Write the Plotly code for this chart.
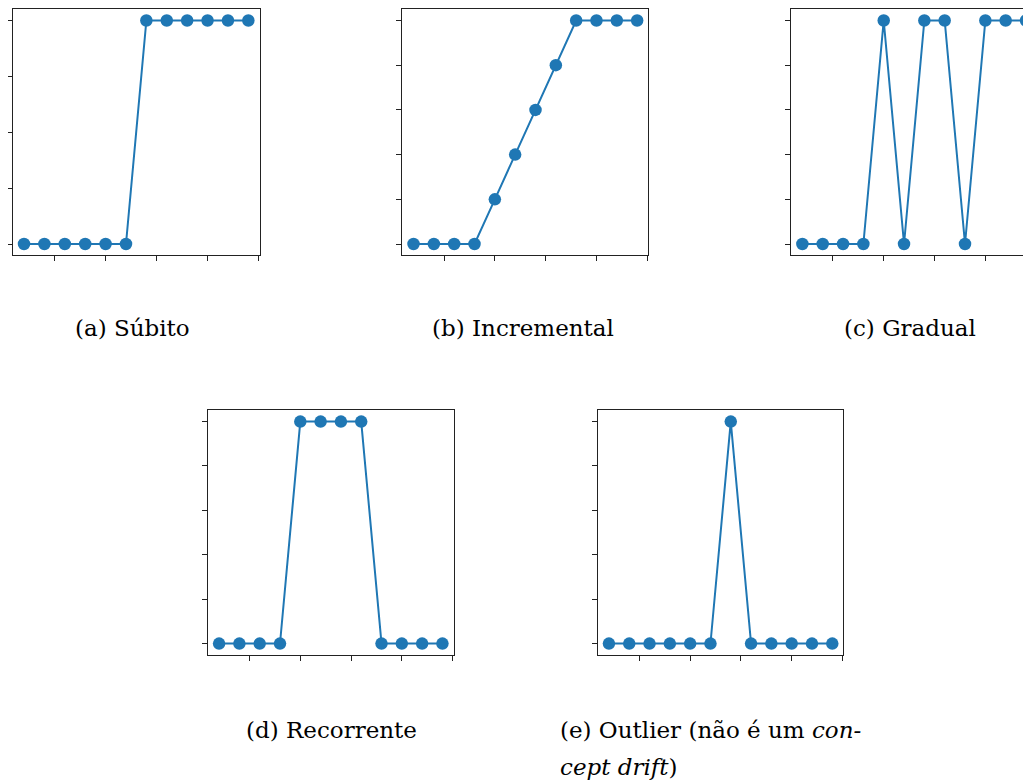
import plotly.graph_objects as go

# The page body has an 8px default margin; the figure starts at screen (8, 8).
OFF = 8
W, H = 1031 - OFF, 782 - OFF

x_vals = [1, 2, 3, 4, 5, 6, 7, 8, 9, 10, 11, 12]
subito = [0, 0, 0, 0, 0, 0, 1, 1, 1, 1, 1, 1]
incremental = [0, 0, 0, 0, 0.2, 0.4, 0.6, 0.8, 1, 1, 1, 1]
gradual = [0, 0, 0, 0, 1, 0, 1, 1, 0, 1, 1, 1]
recorrente = [0, 0, 0, 0, 1, 1, 1, 1, 0, 0, 0, 0]
outlier = [0, 0, 0, 0, 0, 0, 1, 0, 0, 0, 0, 0]

captions = ["(a) Súbito", "(b) Incremental", "(c) Gradual", "(d) Recorrente"]
caption_e1 = "(e) Outlier (não é um <i>con-</i>"
caption_e2 = "<i>cept drift</i>)"

COLOR = "#1f77b4"
FRAME = "#222222"

# panel screen-pixel boxes: (left, right, top, bottom), x-range, y tick step, mirror right side
panels = [
    (subito,      (9.8, 257.3, 8.3, 254.5),   [0.45, 12.55], 0.25, True),
    (incremental, (400.5, 647.2, 8.3, 254.5), [0.45, 12.55], 0.2, True),
    (gradual,     (790.5, 1031, 8.3, 254.5),  [0.45, 1 + (1031 - 801.7) / 20.39], 0.2, False),
    (recorrente,  (205.5, 451.9, 410, 654.5), [0.45, 12.55], 0.2, True),
    (outlier,     (596.5, 842.9, 410, 654.5), [0.45, 12.55], 0.2, True),
]


def px(v):
    return (v - OFF) / W


def py(v):
    return 1 - (v - OFF) / H


fig = go.Figure()
layout = dict(
    width=W, height=H,
    margin=dict(l=0, r=0, t=0, b=0),
    paper_bgcolor="white", plot_bgcolor="white",
    showlegend=False,
)

for i, (vals, (l, r, t, b), xr, ystep, mirror_right) in enumerate(panels):
    n = i + 1
    xa = "x" if n == 1 else f"x{n}"
    ya = "y" if n == 1 else f"y{n}"
    fig.add_trace(go.Scatter(
        x=x_vals, y=vals, mode="lines+markers",
        line=dict(color=COLOR, width=2),
        marker=dict(color=COLOR, size=12.5),
        xaxis=xa, yaxis=ya, cliponaxis=False,
    ))
    xkey = "xaxis" if n == 1 else f"xaxis{n}"
    ykey = "yaxis" if n == 1 else f"yaxis{n}"
    layout[xkey] = dict(
        domain=[max(0, px(l)), min(1, px(r))], range=xr, anchor=ya,
        showgrid=False, zeroline=False, showline=True, linecolor=FRAME, linewidth=1.2,
        mirror=True, ticks="outside", ticklen=5, tickwidth=1, tickcolor=FRAME,
        tick0=0, dtick=2.5, showticklabels=False, fixedrange=True,
    )
    layout[ykey] = dict(
        domain=[py(b), py(t)], range=[-0.05, 1.05], anchor=xa,
        showgrid=False, zeroline=False, showline=True, linecolor=FRAME, linewidth=1.2,
        mirror=mirror_right, ticks="outside", ticklen=5, tickwidth=1, tickcolor=FRAME,
        tick0=0, dtick=ystep, showticklabels=False, fixedrange=True,
    )

fig.update_layout(**layout)

font = dict(family="DejaVu Serif", size=23, color="black")
cap_pos = [(129.5, 327), (522, 327), (910, 327), (329.5, 730)]
for txt, (cx, cy) in zip(captions, cap_pos):
    fig.add_annotation(text=txt, x=px(cx), y=py(cy), xref="paper", yref="paper",
                       xanchor="center", yanchor="middle", showarrow=False, font=font)
fig.add_annotation(text=caption_e1, x=px(557), y=py(730), xref="paper", yref="paper",
                   xanchor="left", yanchor="middle", showarrow=False, font=font)
fig.add_annotation(text=caption_e2, x=px(557), y=py(767), xref="paper", yref="paper",
                   xanchor="left", yanchor="middle", showarrow=False, font=font)

fig.write_html("out.html")
